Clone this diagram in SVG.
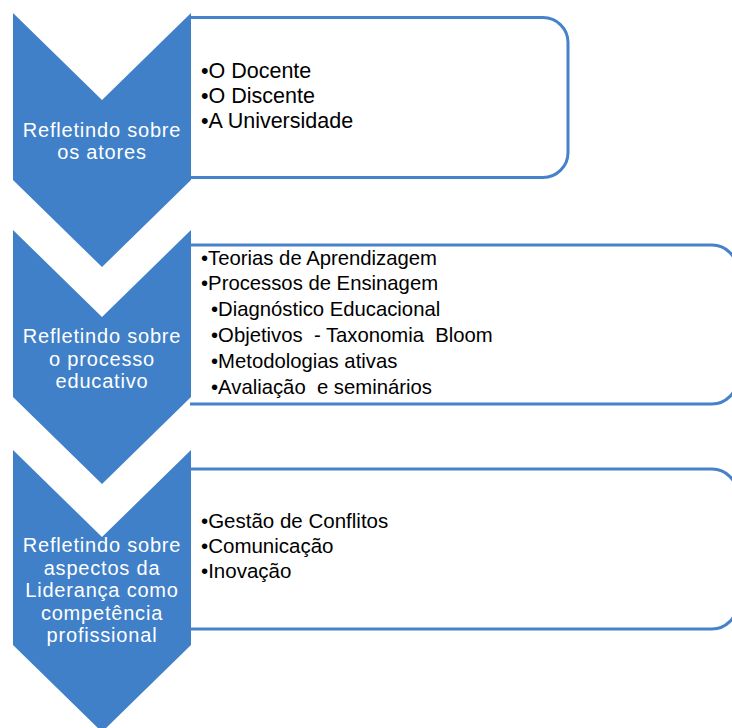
<svg xmlns="http://www.w3.org/2000/svg" width="732" height="728" viewBox="0 0 732 728">
<style>
.box{fill:#ffffff;stroke:#4682cb;stroke-width:3}
.chev{fill:#4080c8}
.ct{font-family:"Liberation Sans",Arial,sans-serif;font-size:20px;letter-spacing:0.8px;fill:#ffffff;text-anchor:middle}
.bt{font-family:"Liberation Sans",Arial,sans-serif;fill:#000000;white-space:pre}
</style>
<rect width="732" height="728" fill="#ffffff"/>
<g id="connectors"></g>
<g id="node1">
<path class="box" d="M190,17.5 H543 A25,25 0 0 1 568,42.5 V152.5 A25,25 0 0 1 543,177.5 H190"/>
<path class="chev" d="M13,13 L102,100 L191,13 V180 L102,267 L13,180 Z"/>
<text class="ct" x="102" y="137">Refletindo sobre</text>
<text class="ct" x="102" y="159">os atores</text>
<text class="bt" font-size="21.5"><tspan x="201" y="78">•O Docente</tspan><tspan x="201" y="103">•O Discente</tspan><tspan x="201" y="128">•A Universidade</tspan></text>
</g>
<g id="node2">
<path class="box" d="M190,245 H712 A25,25 0 0 1 737,270 V379 A25,25 0 0 1 712,404 H190"/>
<path class="chev" d="M13,230 L102,317 L191,230 V397 L102,484 L13,397 Z"/>
<text class="ct" x="102" y="343">Refletindo sobre</text>
<text class="ct" x="102" y="365.5">o processo</text>
<text class="ct" x="102" y="388">educativo</text>
<text class="bt" font-size="20.3" xml:space="preserve"><tspan x="201" y="265">•Teorias de Aprendizagem</tspan><tspan x="201" y="290">•Processos de Ensinagem</tspan><tspan x="211" y="316">•Diagnóstico Educacional</tspan><tspan x="211" y="342">•Objetivos  - Taxonomia  Bloom</tspan><tspan x="211" y="368">•Metodologias ativas</tspan><tspan x="211" y="394">•Avaliação  e seminários</tspan></text>
</g>
<g id="node3">
<path class="box" d="M190,469 H712 A25,25 0 0 1 737,494 V604 A25,25 0 0 1 712,629 H190"/>
<path class="chev" d="M13,450 L102,537 L191,450 V645 L102,732 L13,645 Z"/>
<text class="ct" x="102" y="552">Refletindo sobre</text>
<text class="ct" x="102" y="574.5">aspectos da</text>
<text class="ct" x="102" y="597">Liderança como</text>
<text class="ct" x="102" y="619.5">competência</text>
<text class="ct" x="102" y="642">profissional</text>
<text class="bt" font-size="20.5"><tspan x="201" y="528">•Gestão de Conflitos</tspan><tspan x="201" y="553">•Comunicação</tspan><tspan x="201" y="578">•Inovação</tspan></text>
</g>
</svg>
